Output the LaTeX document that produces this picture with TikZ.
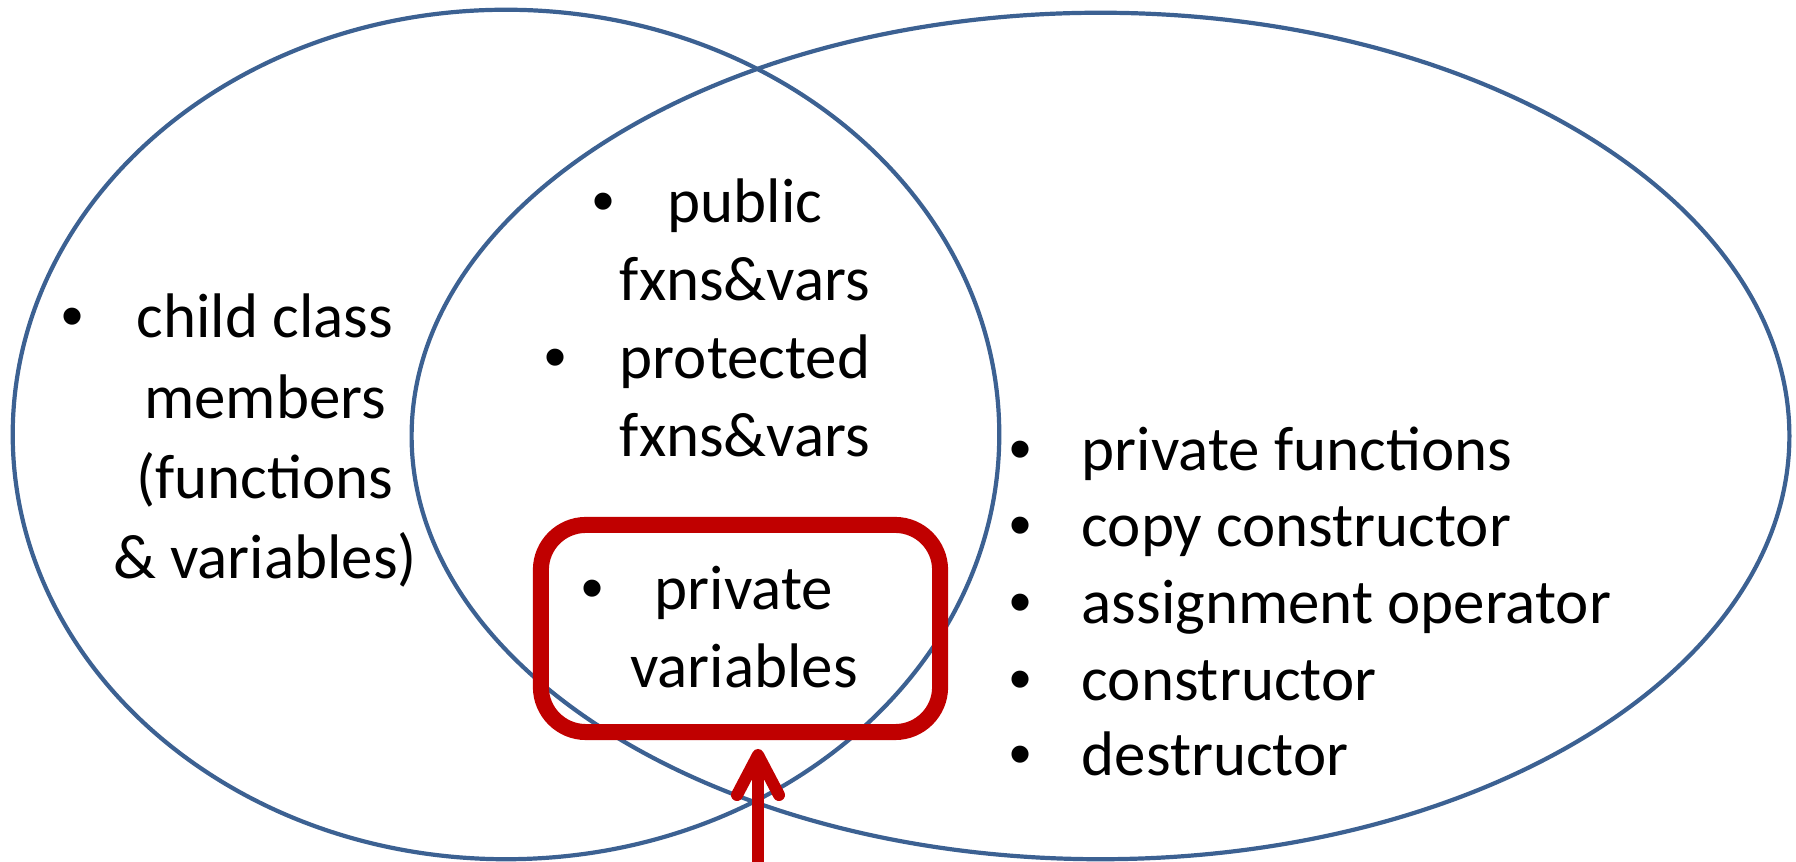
\documentclass[tikz,border=0pt]{standalone}
\usepackage{fontspec}
\setmainfont{Carlito}
\newfontfamily\bulfont{Liberation Sans}
\usetikzlibrary{calc}
\definecolor{ellblue}{HTML}{3C6192}
\definecolor{boxred}{HTML}{C00000}
\begin{document}
\begin{tikzpicture}[x=0.01cm,y=-0.01cm,
  ell/.style={draw=ellblue, line width=0.042cm},
  ln/.style={anchor=base, inner sep=0pt, font=\fontsize{17.9pt}{21pt}\selectfont},
  lnl/.style={ln, anchor=base west},
  bul/.style={anchor=base, inner sep=0pt, font=\bulfont\fontsize{17.9pt}{21pt}\selectfont},
  redbox/.style={draw=boxred, line width=0.16cm, rounded corners=0.45cm, inner sep=0pt},
  redarrow/.style={draw=boxred, line width=0.12cm, line join=round}]

\useasboundingbox (0,0) rectangle (1796,862);

% ellipses
\draw[ell] (506,434.5) ellipse [x radius=4.93cm, y radius=4.245cm];
\draw[ell] (1100.5,436) ellipse [x radius=6.885cm, y radius=4.23cm];

% red box
\node[redbox, minimum width=3.99cm, minimum height=2.07cm] (pbox) at (740.5,628.5) {};

% arrow
\coordinate (abot) at (758,862);
\coordinate (atip) at (758,755);
\draw[redarrow] (abot) -- (atip);
\draw[redarrow, line cap=round] ($(atip)+(-21,40)$) -- (atip) -- ($(atip)+(21,40)$);

% left block
\node[bul] (b1) at (73,338) {•};
\node[ln] (t1a) at (265,338) {child class};
\node[ln] (t1b) at (265,419) {members};
\node[ln] (t1c) at (265,499) {(functions};
\node[ln] (t1d) at (265,579) {\& variables)};

% middle block
\node[bul] (b2) at (604,223) {•};
\node[ln] (t2a) at (745,223) {public};
\node[ln] (t2b) at (745,301) {fxns\&vars};
\node[bul] (b3) at (556,379) {•};
\node[ln] (t2c) at (745,379) {protected};
\node[ln] (t2d) at (745,457) {fxns\&vars};

% boxed block
\node[bul] (b4) at (593,610) {•};
\node[ln] (t3a) at (744,610) {private};
\node[ln] (t3b) at (744,688) {variables};

% right list
\node[bul] (b5) at (1021,471) {•};
\node[lnl] (t4a) at (1081,471) {private functions};
\node[bul] (b6) at (1021,547) {•};
\node[lnl] (t4b) at (1081,547) {copy constructor};
\node[bul] (b7) at (1021,624) {•};
\node[lnl] (t4c) at (1081,624) {assignment operator};
\node[bul] (b8) at (1021,701) {•};
\node[lnl] (t4d) at (1081,701) {constructor};
\node[bul] (b9) at (1021,776) {•};
\node[lnl] (t4e) at (1081,776) {destructor};
\end{tikzpicture}
\end{document}
